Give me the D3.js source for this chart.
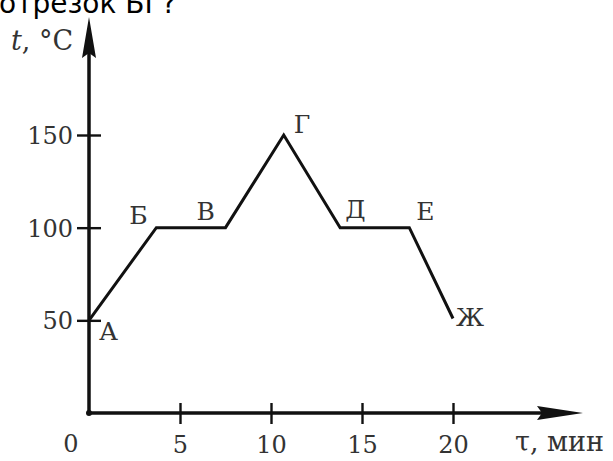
<!DOCTYPE html>
<html>
<head>
<meta charset="utf-8">
<script src="https://cdn.jsdelivr.net/npm/d3@7/dist/d3.min.js"></script>
<style>
  html, body { margin: 0; padding: 0; background: #fff; }
  svg { display: block; }
</style>
</head>
<body>
<svg id="chart" width="613" height="461"></svg>
<script>
// Heating / cooling curve: temperature t (°C) against time τ (min)
const pointLabels = ["А", "Б", "В", "Г", "Д", "Е", "Ж"];
const timeValues  = [0, 3.7, 7.5, 10.7, 13.8, 17.6, 20];
const tempValues  = [50, 100, 100, 150, 100, 100, 51];
const xTicks = [5, 10, 15, 20];
const yTicks = [50, 100, 150];

const svg = d3.select("#chart");
const ink = "#111";
const textInk = "#333";
const serif = "DejaVu Serif";

const x = d3.scaleLinear().domain([0, 20]).range([89, 453]);
const y = d3.scaleLinear().domain([0, 150]).range([413, 135]);

// question text running off the top edge
svg.append("text")
  .attr("x", -1).attr("y", 13)
  .attr("font-family", "DejaVu Sans")
  .attr("font-size", 28)
  .attr("fill", "#000")
  .text("отрезок БГ?");

// axes
const axisX = d3.axisBottom(x).tickValues(xTicks).tickSize(0).tickFormat(d3.format("d"));
const axisY = d3.axisLeft(y).tickValues(yTicks).tickSize(0).tickFormat(d3.format("d"));

const gx = svg.append("g").attr("transform", `translate(0,${y(0)})`).call(axisX);
const gy = svg.append("g").attr("transform", `translate(${x(0)},0)`).call(axisY);
[gx, gy].forEach(g => g.select(".domain").remove());

gx.selectAll(".tick line").attr("y1", -10).attr("y2", 11)
  .attr("stroke", ink).attr("stroke-width", 2.4);
gx.selectAll(".tick text")
  .attr("y", 40).attr("dy", 0)
  .attr("font-family", serif).attr("font-size", 24)
  .attr("fill", textInk);

gy.selectAll(".tick line").attr("x1", -12).attr("x2", 12)
  .attr("stroke", ink).attr("stroke-width", 2.4);
gy.selectAll(".tick text")
  .attr("x", -16).attr("dy", "0.36em")
  .attr("font-family", serif).attr("font-size", 24)
  .attr("fill", textInk);

// axis lines with arrows
svg.append("line")
  .attr("x1", x(0)).attr("y1", y(0)).attr("x2", 545).attr("y2", y(0))
  .attr("stroke", ink).attr("stroke-width", 3.5);
svg.append("line")
  .attr("x1", x(0)).attr("y1", y(0)).attr("x2", x(0)).attr("y2", 50)
  .attr("stroke", ink).attr("stroke-width", 3.5);

const y0 = y(0), x0 = x(0);
svg.append("path")
  .attr("d", `M583,${y0} L537,${y0 - 7} L542,${y0} L537,${y0 + 7} Z`)
  .attr("fill", ink);
svg.append("path")
  .attr("d", `M${x0},17 L${x0 - 7},58 L${x0},53 L${x0 + 7},58 Z`)
  .attr("fill", ink);

svg.append("circle").attr("cx", x0).attr("cy", y0).attr("r", 3).attr("fill", ink);

// origin label
svg.append("text")
  .attr("x", 71).attr("y", 452)
  .attr("text-anchor", "middle")
  .attr("font-family", serif).attr("font-size", 24)
  .attr("fill", textInk).text("0");

// axis titles
const yTitle = svg.append("text")
  .attr("x", 11).attr("y", 50)
  .attr("font-family", serif).attr("font-size", 27)
  .attr("fill", textInk);
yTitle.append("tspan").attr("font-style", "italic").text("t");
yTitle.append("tspan").text(", °C");

svg.append("text")
  .attr("x", 515).attr("y", 451)
  .attr("font-family", serif).attr("font-size", 27)
  .attr("fill", textInk)
  .text("τ, мин");

// the curve
const pts = timeValues.map((t, i) => ({ t, v: tempValues[i], name: pointLabels[i] }));
const line = d3.line().x(d => x(d.t)).y(d => y(d.v));
svg.append("path")
  .datum(pts)
  .attr("d", line)
  .attr("fill", "none")
  .attr("stroke", ink)
  .attr("stroke-width", 3)
  .attr("stroke-linejoin", "miter");

// point letters, offset from their vertices
const labelOffset = {
  "А": [10, 20], "Б": [-27, -4], "В": [-29, -8], "Г": [10, -2],
  "Д": [5, -10], "Е": [7, -8], "Ж": [3, 8]
};
svg.append("g").selectAll("text")
  .data(pts)
  .join("text")
  .attr("x", d => x(d.t) + labelOffset[d.name][0])
  .attr("y", d => y(d.v) + labelOffset[d.name][1])
  .attr("font-family", serif)
  .attr("font-size", 25)
  .attr("fill", textInk)
  .text(d => d.name);
</script>
</body>
</html>
